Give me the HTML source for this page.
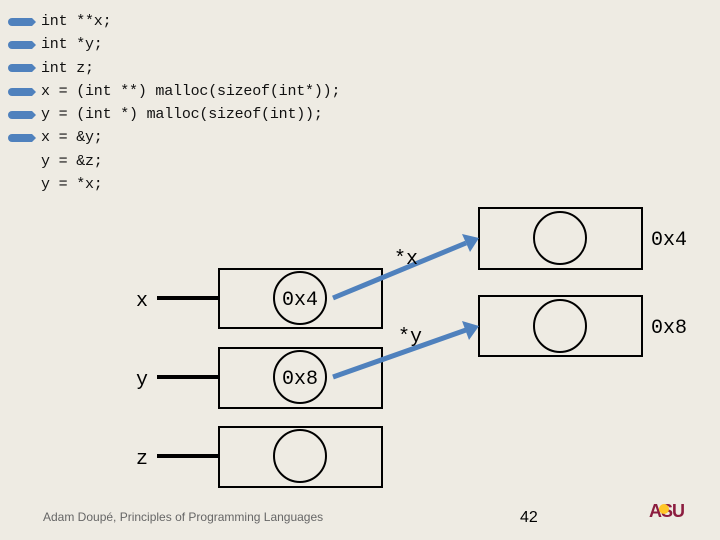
<!DOCTYPE html>
<html><head><meta charset="utf-8"><style>
body{margin:0;width:720px;height:540px;background:#eeebe3;overflow:hidden;font-family:"Liberation Sans",sans-serif}
.code{position:absolute;left:41px;font:15px "Liberation Mono",monospace;letter-spacing:-0.2px;color:#111;white-space:pre;line-height:23.3px;top:10px}
</style></head><body>
<div class="code">int **x;
int *y;
int z;
x = (int **) malloc(sizeof(int*));
y = (int *) malloc(sizeof(int));
x = &amp;y;
y = &amp;z;
y = *x;</div>
<svg width="720" height="540" style="position:absolute;left:0;top:0">
<g fill="#4f81bd">
<path d="M12 18h20l4 4l-4 4h-20a4 4 0 0 1 0-8z"/>
<path d="M12 41h20l4 4l-4 4h-20a4 4 0 0 1 0-8z"/>
<path d="M12 64h20l4 4l-4 4h-20a4 4 0 0 1 0-8z"/>
<path d="M12 88h20l4 4l-4 4h-20a4 4 0 0 1 0-8z"/>
<path d="M12 111h20l4 4l-4 4h-20a4 4 0 0 1 0-8z"/>
<path d="M12 134h20l4 4l-4 4h-20a4 4 0 0 1 0-8z"/>
</g>
<g stroke="#000" fill="none" stroke-width="2">
<rect x="219" y="269" width="163" height="59"/>
<rect x="219" y="348" width="163" height="60"/>
<rect x="219" y="427" width="163" height="60"/>
<circle cx="300" cy="298" r="26"/>
<circle cx="300" cy="377" r="26"/>
<circle cx="300" cy="456" r="26"/>
<rect x="479" y="208" width="163" height="61"/>
<rect x="479" y="296" width="163" height="60"/>
<circle cx="560" cy="238" r="26"/>
<circle cx="560" cy="326" r="26"/>
</g>
<g stroke="#000" stroke-width="4">
<line x1="157" y1="298" x2="219" y2="298"/>
<line x1="157" y1="377" x2="219" y2="377"/>
<line x1="157" y1="456" x2="219" y2="456"/>
</g>
<g stroke="#4f81bd" stroke-width="5">
<line x1="333" y1="298" x2="466" y2="243"/>
<line x1="333" y1="377" x2="466" y2="330"/>
</g>
<g fill="#4f81bd">
<polygon points="479,238 462,234 470,252"/>
<polygon points="479,326 462,321 469,340"/>
</g>
<g font-family="Liberation Mono,monospace" font-size="20" fill="#000">
<text x="136" y="306">x</text>
<text x="136" y="385">y</text>
<text x="136" y="464">z</text>
<text x="282" y="305">0x4</text>
<text x="282" y="384">0x8</text>
<text x="651" y="245">0x4</text>
<text x="651" y="333">0x8</text>
<text x="394" y="264">*x</text>
<text x="398" y="342">*y</text>
</g>
<text x="43" y="521" font-size="12" fill="#666">Adam Doupé, Principles of Programming Languages</text>
<text x="520" y="522" font-size="16" fill="#000">42</text>
<text x="649" y="517" font-size="18" font-weight="bold" fill="#8c1d40" letter-spacing="-1">ASU</text>
<circle cx="664" cy="509" r="5" fill="#ffc627"/>
</svg>
</body></html>
